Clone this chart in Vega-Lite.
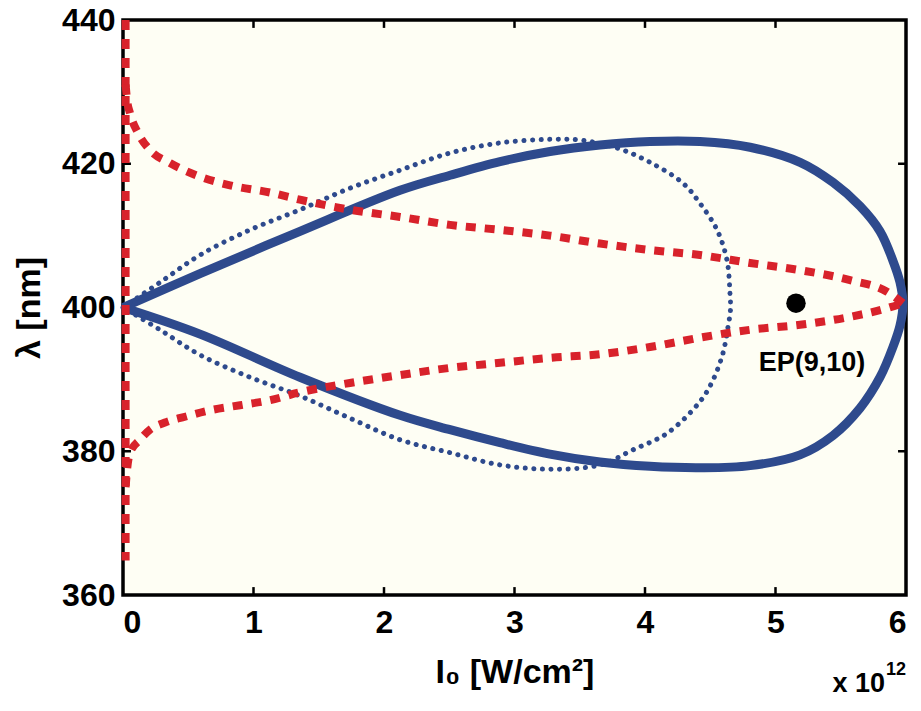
{
  "$schema": "https://vega.github.io/schema/vega-lite/v6.json",
  "width": 783,
  "height": 575,
  "autosize": {"type": "none"},
  "padding": {"left": 123, "top": 20, "right": 15, "bottom": 116},
  "background": "white",
  "config": {
    "view": {"fill": "#FEFEF4", "stroke": null},
    "axis": {
      "grid": false,
      "domain": false,
      "ticks": false,
      "labelFont": "Liberation Sans",
      "labelFontWeight": "bold",
      "labelFontSize": 32,
      "labelColor": "black",
      "titleFont": "Liberation Sans",
      "titleFontWeight": "bold",
      "titleFontSize": 34,
      "titleColor": "black"
    }
  },
  "datasets": {
    "curves": [
      {"s": "bs", "i": 0, "x": 0, "y": 400},
      {"s": "bs", "i": 1, "x": 0.59, "y": 404.7},
      {"s": "bs", "i": 2, "x": 1.356, "y": 410.6},
      {"s": "bs", "i": 3, "x": 2.123, "y": 416.3},
      {"s": "bs", "i": 4, "x": 2.506, "y": 418.4},
      {"s": "bs", "i": 5, "x": 2.889, "y": 420.3},
      {"s": "bs", "i": 6, "x": 3.272, "y": 421.7},
      {"s": "bs", "i": 7, "x": 3.655, "y": 422.6},
      {"s": "bs", "i": 8, "x": 4.038, "y": 423.1},
      {"s": "bs", "i": 9, "x": 4.421, "y": 423.1},
      {"s": "bs", "i": 10, "x": 4.805, "y": 422.3},
      {"s": "bs", "i": 11, "x": 5.188, "y": 420.2},
      {"s": "bs", "i": 12, "x": 5.441, "y": 417.4},
      {"s": "bs", "i": 13, "x": 5.648, "y": 414.1},
      {"s": "bs", "i": 14, "x": 5.801, "y": 410.6},
      {"s": "bs", "i": 15, "x": 5.9, "y": 406.5},
      {"s": "bs", "i": 16, "x": 5.954, "y": 403.5},
      {"s": "bs", "i": 17, "x": 5.977, "y": 400.5},
      {"s": "bs", "i": 18, "x": 5.954, "y": 397.5},
      {"s": "bs", "i": 19, "x": 5.9, "y": 394.5},
      {"s": "bs", "i": 20, "x": 5.801, "y": 390.3},
      {"s": "bs", "i": 21, "x": 5.648, "y": 386.0},
      {"s": "bs", "i": 22, "x": 5.441, "y": 382.2},
      {"s": "bs", "i": 23, "x": 5.188, "y": 379.5},
      {"s": "bs", "i": 24, "x": 4.805, "y": 378.0},
      {"s": "bs", "i": 25, "x": 4.421, "y": 377.7},
      {"s": "bs", "i": 26, "x": 4.038, "y": 377.9},
      {"s": "bs", "i": 27, "x": 3.655, "y": 378.5},
      {"s": "bs", "i": 28, "x": 3.272, "y": 379.6},
      {"s": "bs", "i": 29, "x": 2.889, "y": 381.2},
      {"s": "bs", "i": 30, "x": 2.506, "y": 383.0},
      {"s": "bs", "i": 31, "x": 2.123, "y": 385.0},
      {"s": "bs", "i": 32, "x": 1.356, "y": 390.3},
      {"s": "bs", "i": 33, "x": 0.59, "y": 396.3},
      {"s": "bs", "i": 34, "x": 0, "y": 400},

      {"s": "bd", "i": 0, "x": 0, "y": 400},
      {"s": "bd", "i": 1, "x": 0.284, "y": 403.5},
      {"s": "bd", "i": 2, "x": 0.59, "y": 407.3},
      {"s": "bd", "i": 3, "x": 0.973, "y": 410.8},
      {"s": "bd", "i": 4, "x": 1.356, "y": 413.6},
      {"s": "bd", "i": 5, "x": 1.739, "y": 416.6},
      {"s": "bd", "i": 6, "x": 2.123, "y": 419.1},
      {"s": "bd", "i": 7, "x": 2.506, "y": 421.5},
      {"s": "bd", "i": 8, "x": 2.889, "y": 422.9},
      {"s": "bd", "i": 9, "x": 3.272, "y": 423.4},
      {"s": "bd", "i": 10, "x": 3.502, "y": 423.3},
      {"s": "bd", "i": 11, "x": 3.785, "y": 422.2},
      {"s": "bd", "i": 12, "x": 4.038, "y": 420.2},
      {"s": "bd", "i": 13, "x": 4.291, "y": 417.3},
      {"s": "bd", "i": 14, "x": 4.421, "y": 414.5},
      {"s": "bd", "i": 15, "x": 4.552, "y": 410.8},
      {"s": "bd", "i": 16, "x": 4.628, "y": 406.6},
      {"s": "bd", "i": 17, "x": 4.651, "y": 402.0},
      {"s": "bd", "i": 18, "x": 4.655, "y": 399.7},
      {"s": "bd", "i": 19, "x": 4.636, "y": 397.3},
      {"s": "bd", "i": 20, "x": 4.598, "y": 393.7},
      {"s": "bd", "i": 21, "x": 4.521, "y": 389.9},
      {"s": "bd", "i": 22, "x": 4.421, "y": 386.9},
      {"s": "bd", "i": 23, "x": 4.169, "y": 382.5},
      {"s": "bd", "i": 24, "x": 3.908, "y": 380.2},
      {"s": "bd", "i": 25, "x": 3.655, "y": 378.1},
      {"s": "bd", "i": 26, "x": 3.272, "y": 377.5},
      {"s": "bd", "i": 27, "x": 2.889, "y": 378.1},
      {"s": "bd", "i": 28, "x": 2.506, "y": 379.8},
      {"s": "bd", "i": 29, "x": 2.123, "y": 381.6},
      {"s": "bd", "i": 30, "x": 1.739, "y": 384.6},
      {"s": "bd", "i": 31, "x": 1.356, "y": 387.7},
      {"s": "bd", "i": 32, "x": 0.973, "y": 390.3},
      {"s": "bd", "i": 33, "x": 0.59, "y": 393.4},
      {"s": "bd", "i": 34, "x": 0.284, "y": 396.9},
      {"s": "bd", "i": 35, "x": 0, "y": 400},

      {"s": "rv", "i": 0, "x": 0.02, "y": 440},
      {"s": "rv", "i": 1, "x": 0.02, "y": 364.8},

      {"s": "ru", "i": 0, "x": 0.02, "y": 431},
      {"s": "ru", "i": 1, "x": 0.031, "y": 428.9},
      {"s": "ru", "i": 2, "x": 0.054, "y": 427.0},
      {"s": "ru", "i": 3, "x": 0.115, "y": 424.3},
      {"s": "ru", "i": 4, "x": 0.207, "y": 421.9},
      {"s": "ru", "i": 5, "x": 0.36, "y": 420.1},
      {"s": "ru", "i": 6, "x": 0.59, "y": 418.2},
      {"s": "ru", "i": 7, "x": 0.82, "y": 417.0},
      {"s": "ru", "i": 8, "x": 1.126, "y": 416.0},
      {"s": "ru", "i": 9, "x": 1.356, "y": 415.0},
      {"s": "ru", "i": 10, "x": 1.739, "y": 413.6},
      {"s": "ru", "i": 11, "x": 2.123, "y": 412.6},
      {"s": "ru", "i": 12, "x": 2.506, "y": 411.5},
      {"s": "ru", "i": 13, "x": 2.889, "y": 410.8},
      {"s": "ru", "i": 14, "x": 3.272, "y": 410.0},
      {"s": "ru", "i": 15, "x": 3.655, "y": 408.9},
      {"s": "ru", "i": 16, "x": 4.038, "y": 408.0},
      {"s": "ru", "i": 17, "x": 4.421, "y": 407.3},
      {"s": "ru", "i": 18, "x": 4.805, "y": 406.2},
      {"s": "ru", "i": 19, "x": 5.188, "y": 405.2},
      {"s": "ru", "i": 20, "x": 5.571, "y": 403.8},
      {"s": "ru", "i": 21, "x": 5.854, "y": 402.2},
      {"s": "ru", "i": 22, "x": 5.977, "y": 400.6},

      {"s": "rl", "i": 0, "x": 0.02, "y": 375},
      {"s": "rl", "i": 1, "x": 0.031, "y": 377.4},
      {"s": "rl", "i": 2, "x": 0.054, "y": 379.8},
      {"s": "rl", "i": 3, "x": 0.13, "y": 381.6},
      {"s": "rl", "i": 4, "x": 0.207, "y": 383.0},
      {"s": "rl", "i": 5, "x": 0.322, "y": 384.0},
      {"s": "rl", "i": 6, "x": 0.475, "y": 384.8},
      {"s": "rl", "i": 7, "x": 0.667, "y": 385.7},
      {"s": "rl", "i": 8, "x": 0.897, "y": 386.4},
      {"s": "rl", "i": 9, "x": 1.126, "y": 387.1},
      {"s": "rl", "i": 10, "x": 1.356, "y": 388.2},
      {"s": "rl", "i": 11, "x": 1.739, "y": 389.5},
      {"s": "rl", "i": 12, "x": 2.123, "y": 390.6},
      {"s": "rl", "i": 13, "x": 2.506, "y": 391.6},
      {"s": "rl", "i": 14, "x": 2.889, "y": 392.3},
      {"s": "rl", "i": 15, "x": 3.272, "y": 393.0},
      {"s": "rl", "i": 16, "x": 3.655, "y": 393.5},
      {"s": "rl", "i": 17, "x": 4.038, "y": 394.5},
      {"s": "rl", "i": 18, "x": 4.421, "y": 395.8},
      {"s": "rl", "i": 19, "x": 4.805, "y": 396.9},
      {"s": "rl", "i": 20, "x": 5.188, "y": 397.6},
      {"s": "rl", "i": 21, "x": 5.571, "y": 398.7},
      {"s": "rl", "i": 22, "x": 5.854, "y": 399.9},
      {"s": "rl", "i": 23, "x": 5.977, "y": 400.6}
    ],
    "ep": [
      {"x": 5.157, "y": 400.6, "label": "EP(9,10)", "lx": 5.28, "ly": 392.3}
    ],
    "note": [
      {"x": 6, "y": 360, "base": "x 10", "exp": "12"}
    ],
    "xticks": [{"t": 1}, {"t": 2}, {"t": 3}, {"t": 4}, {"t": 5}],
    "yticks": [{"t": 380}, {"t": 400}, {"t": 420}]
  },
  "layer": [
    {
      "data": {"name": "note"},
      "mark": {"type": "rect", "fill": null, "filled": false, "stroke": "black", "strokeWidth": 3.5},
      "encoding": {
        "x": {"datum": 0, "type": "quantitative", "scale": {"domain": [0, 6], "nice": false, "zero": false},
              "axis": {"orient": "bottom", "values": [0, 1, 2, 3, 4, 5, 6], "format": "d", "title": "I₀ [W/cm²]", "labelPadding": 12, "titlePadding": 17}},
        "x2": {"datum": 6},
        "y": {"datum": 360, "type": "quantitative", "scale": {"domain": [360, 440], "nice": false, "zero": false},
              "axis": {"orient": "left", "values": [360, 380, 400, 420, 440], "format": "d", "title": "λ [nm]", "labelPadding": 8, "titlePadding": 15}},
        "y2": {"datum": 440}
      }
    },
    {
      "data": {"name": "xticks"},
      "mark": {"type": "rule", "color": "black", "strokeWidth": 2.5},
      "encoding": {
        "x": {"field": "t", "type": "quantitative", "scale": {"domain": [0, 6], "nice": false, "zero": false}, "axis": null},
        "y": {"datum": 360, "type": "quantitative", "scale": {"domain": [360, 440], "nice": false, "zero": false}, "axis": null},
        "y2": {"datum": 361.1}
      }
    },
    {
      "data": {"name": "xticks"},
      "mark": {"type": "rule", "color": "black", "strokeWidth": 2.5},
      "encoding": {
        "x": {"field": "t", "type": "quantitative", "scale": {"domain": [0, 6], "nice": false, "zero": false}, "axis": null},
        "y": {"datum": 440, "type": "quantitative", "scale": {"domain": [360, 440], "nice": false, "zero": false}, "axis": null},
        "y2": {"datum": 438.9}
      }
    },
    {
      "data": {"name": "yticks"},
      "mark": {"type": "rule", "color": "black", "strokeWidth": 2.5},
      "encoding": {
        "y": {"field": "t", "type": "quantitative", "scale": {"domain": [360, 440], "nice": false, "zero": false}, "axis": null},
        "x": {"datum": 0, "type": "quantitative", "scale": {"domain": [0, 6], "nice": false, "zero": false}, "axis": null},
        "x2": {"datum": 0.061}
      }
    },
    {
      "data": {"name": "yticks"},
      "mark": {"type": "rule", "color": "black", "strokeWidth": 2.5},
      "encoding": {
        "y": {"field": "t", "type": "quantitative", "scale": {"domain": [360, 440], "nice": false, "zero": false}, "axis": null},
        "x": {"datum": 6, "type": "quantitative", "scale": {"domain": [0, 6], "nice": false, "zero": false}, "axis": null},
        "x2": {"datum": 5.939}
      }
    },
    {
      "data": {"name": "curves"},
      "transform": [{"filter": "datum.s === 'bs'"}],
      "mark": {"type": "line", "color": "#2E4A8D", "strokeWidth": 9, "interpolate": "catmull-rom", "strokeJoin": "round"},
      "encoding": {
        "x": {"field": "x", "type": "quantitative", "scale": {"domain": [0, 6], "nice": false, "zero": false}, "axis": null},
        "y": {"field": "y", "type": "quantitative", "scale": {"domain": [360, 440], "nice": false, "zero": false}, "axis": null},
        "order": {"field": "i", "type": "quantitative"}
      }
    },
    {
      "data": {"name": "curves"},
      "transform": [{"filter": "datum.s === 'bd'"}],
      "mark": {"type": "line", "color": "#2E4A8D", "strokeWidth": 5, "interpolate": "catmull-rom", "strokeCap": "round", "strokeDash": [0.1, 8.5]},
      "encoding": {
        "x": {"field": "x", "type": "quantitative", "scale": {"domain": [0, 6], "nice": false, "zero": false}, "axis": null},
        "y": {"field": "y", "type": "quantitative", "scale": {"domain": [360, 440], "nice": false, "zero": false}, "axis": null},
        "order": {"field": "i", "type": "quantitative"}
      }
    },
    {
      "data": {"name": "curves"},
      "transform": [{"filter": "datum.s === 'rv' || datum.s === 'ru' || datum.s === 'rl'"}],
      "mark": {"type": "line", "color": "#D8222B", "strokeWidth": 8, "interpolate": "monotone", "strokeDash": [10, 9]},
      "encoding": {
        "x": {"field": "x", "type": "quantitative", "scale": {"domain": [0, 6], "nice": false, "zero": false}, "axis": null},
        "y": {"field": "y", "type": "quantitative", "scale": {"domain": [360, 440], "nice": false, "zero": false}, "axis": null},
        "detail": {"field": "s", "type": "nominal"},
        "order": {"field": "i", "type": "quantitative"}
      }
    },
    {
      "data": {"name": "ep"},
      "mark": {"type": "circle", "color": "black", "opacity": 1, "size": 380},
      "encoding": {
        "x": {"field": "x", "type": "quantitative", "scale": {"domain": [0, 6], "nice": false, "zero": false}, "axis": null},
        "y": {"field": "y", "type": "quantitative", "scale": {"domain": [360, 440], "nice": false, "zero": false}, "axis": null}
      }
    },
    {
      "data": {"name": "ep"},
      "mark": {"type": "text", "font": "Liberation Sans", "fontWeight": "bold", "fontSize": 27, "color": "black", "align": "center", "baseline": "middle"},
      "encoding": {
        "x": {"field": "lx", "type": "quantitative", "scale": {"domain": [0, 6], "nice": false, "zero": false}, "axis": null},
        "y": {"field": "ly", "type": "quantitative", "scale": {"domain": [360, 440], "nice": false, "zero": false}, "axis": null},
        "text": {"field": "label"}
      }
    },
    {
      "data": {"name": "note"},
      "mark": {"type": "text", "font": "Liberation Sans", "fontWeight": "bold", "fontSize": 27, "color": "black", "align": "right", "baseline": "alphabetic", "dx": -21, "dy": 97},
      "encoding": {
        "x": {"field": "x", "type": "quantitative", "scale": {"domain": [0, 6], "nice": false, "zero": false}, "axis": null},
        "y": {"field": "y", "type": "quantitative", "scale": {"domain": [360, 440], "nice": false, "zero": false}, "axis": null},
        "text": {"field": "base"}
      }
    },
    {
      "data": {"name": "note"},
      "mark": {"type": "text", "font": "Liberation Sans", "fontWeight": "bold", "fontSize": 18, "color": "black", "align": "right", "baseline": "alphabetic", "dx": 0, "dy": 80},
      "encoding": {
        "x": {"field": "x", "type": "quantitative", "scale": {"domain": [0, 6], "nice": false, "zero": false}, "axis": null},
        "y": {"field": "y", "type": "quantitative", "scale": {"domain": [360, 440], "nice": false, "zero": false}, "axis": null},
        "text": {"field": "exp"}
      }
    }
  ],
  "resolve": {"axis": {"x": "independent", "y": "independent"}}
}
